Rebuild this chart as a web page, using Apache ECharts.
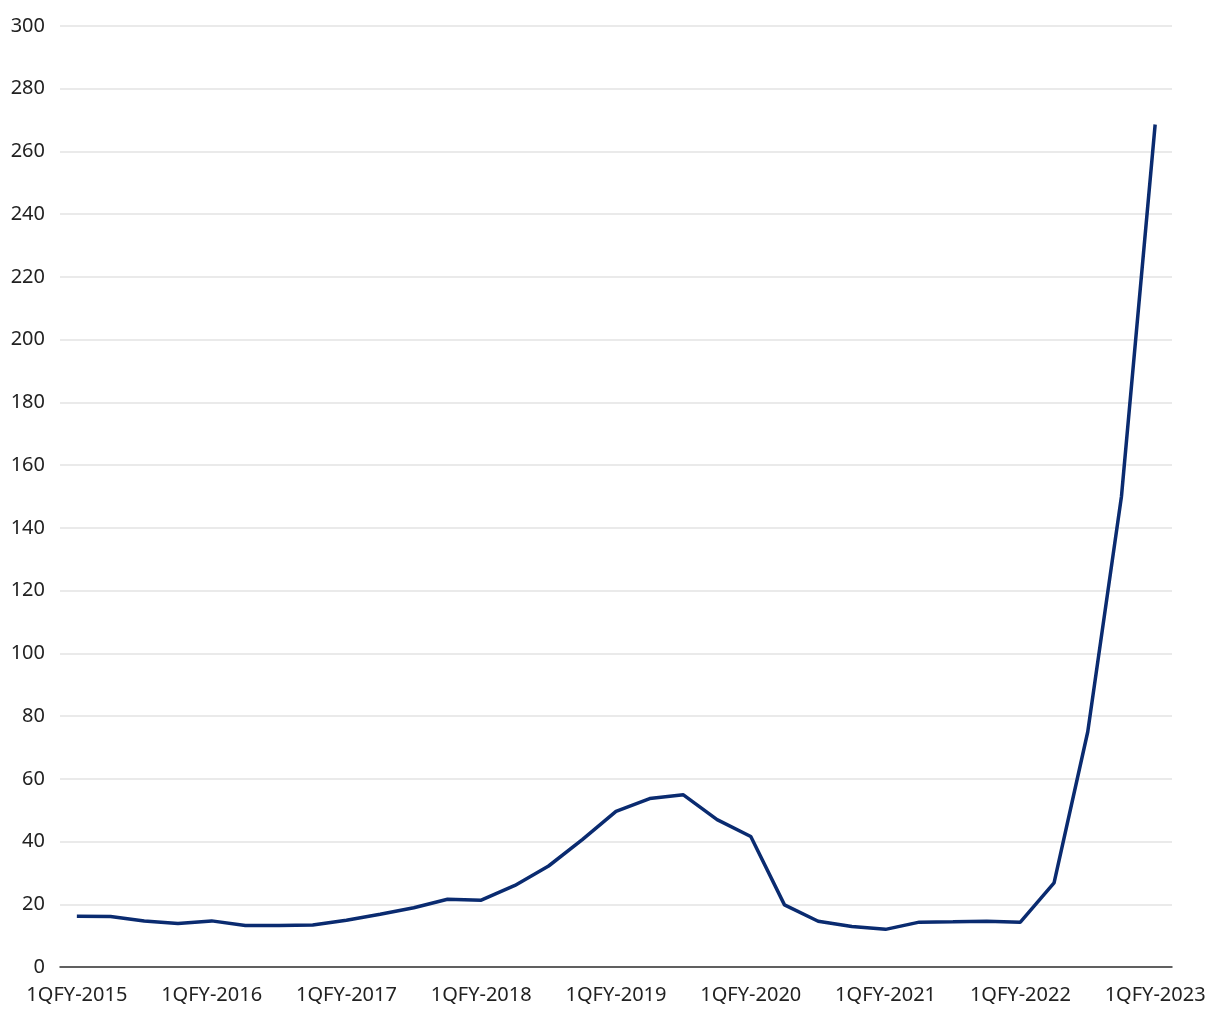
<!DOCTYPE html>
<html>
<head>
<meta charset="utf-8">
<script src="https://cdn.jsdelivr.net/npm/echarts@6/dist/echarts.min.js"></script>
<style>
html,body{margin:0;padding:0;background:#fff;}
#chart{width:1220px;height:1020px;}
</style>
</head>
<body>
<div id="chart"></div>
<script>
const categories = [
  "1QFY-2015","2QFY-2015","3QFY-2015","4QFY-2015",
  "1QFY-2016","2QFY-2016","3QFY-2016","4QFY-2016",
  "1QFY-2017","2QFY-2017","3QFY-2017","4QFY-2017",
  "1QFY-2018","2QFY-2018","3QFY-2018","4QFY-2018",
  "1QFY-2019","2QFY-2019","3QFY-2019","4QFY-2019",
  "1QFY-2020","2QFY-2020","3QFY-2020","4QFY-2020",
  "1QFY-2021","2QFY-2021","3QFY-2021","4QFY-2021",
  "1QFY-2022","2QFY-2022","3QFY-2022","4QFY-2022",
  "1QFY-2023"
];
const values = [
  16.2, 16.1, 14.7, 13.9,
  14.7, 13.2, 13.2, 13.4,
  14.9, 16.8, 18.9, 21.6,
  21.3, 26.0, 32.2, 40.6,
  49.6, 53.7, 54.9, 47.0,
  41.6, 19.8, 14.6, 12.9,
  12.0, 14.3, 14.4, 14.6,
  14.3, 26.8, 75.0, 150.0,
  268.6
];
const yTicks = { min: 0, max: 300, interval: 20 };

const chart = echarts.init(document.getElementById('chart'));
chart.setOption({
  animation: false,
  grid: { left: 60, right: 48, top: 26, bottom: 53, containLabel: false },
  xAxis: {
    type: 'category',
    data: categories,
    boundaryGap: true,
    axisLine: { show: true, lineStyle: { color: '#333', width: 1.5 } },
    axisTick: { show: false },
    axisLabel: {
      interval: 3,
      margin: 18,
      color: '#222',
      fontFamily: 'Noto Sans',
      fontSize: 20
    },
    splitLine: { show: false }
  },
  yAxis: {
    type: 'value',
    min: yTicks.min, max: yTicks.max, interval: yTicks.interval,
    axisLine: { show: false },
    axisTick: { show: false },
    axisLabel: {
      margin: 15,
      color: '#222',
      fontFamily: 'Noto Sans',
      fontSize: 20
    },
    splitLine: { show: true, lineStyle: { color: '#e3e3e3', width: 1.5 } }
  },
  series: [{
    type: 'line',
    data: values,
    symbol: 'none',
    lineStyle: { color: '#0a2b70', width: 3.5 },
    itemStyle: { color: '#0a2b70' }
  }]
});
</script>
</body>
</html>
